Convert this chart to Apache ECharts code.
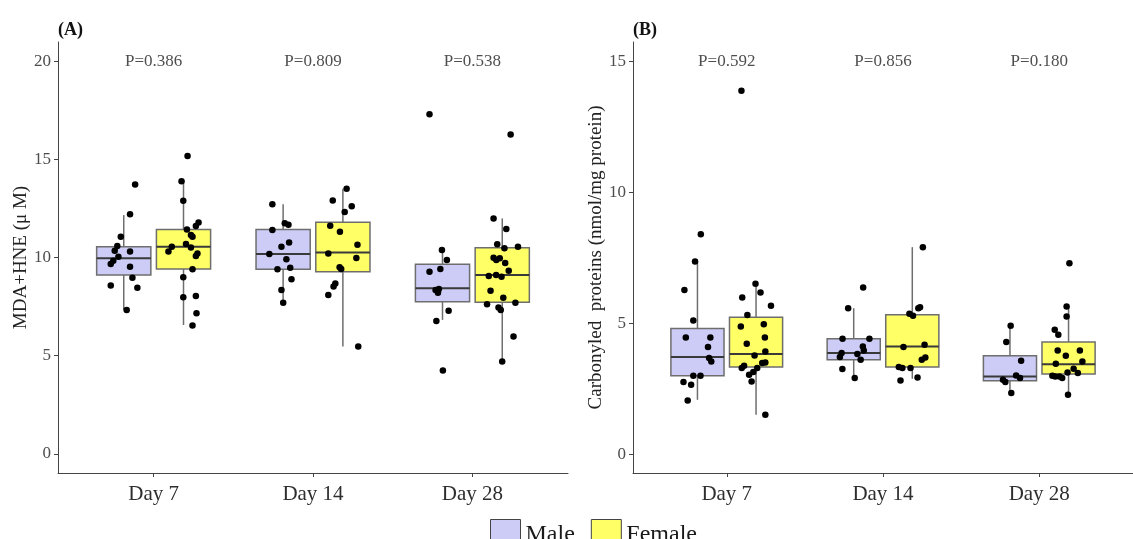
<!DOCTYPE html>
<html>
<head>
<meta charset="utf-8">
<script src="https://cdn.jsdelivr.net/npm/echarts@6/dist/echarts.min.js"></script>
<style>
  html, body { margin: 0; padding: 0; background: #fff; }
  #chart { width: 1133px; height: 539px; }
</style>
</head>
<body>
<div id="chart"></div>
<script>
const days = ['Day 7', 'Day 14', 'Day 28'];
const yTicksA = [0, 5, 10, 15, 20];
const yTicksB = [0, 5, 10, 15];
const pValuesA = ['P=0.386', 'P=0.809', 'P=0.538'];
const pValuesB = ['P=0.592', 'P=0.856', 'P=0.180'];

// [low whisker, Q1, median, Q3, high whisker] per day
const maleBoxA = [[7.33, 9.11, 9.96, 10.55, 12.16], [7.70, 9.40, 10.18, 11.43, 12.71], [6.82, 7.75, 8.43, 9.65, 10.38]];
const femaleBoxA = [[6.56, 9.41, 10.55, 11.43, 13.89], [5.46, 9.28, 10.25, 11.79, 13.50], [4.70, 7.72, 9.11, 10.50, 11.99]];
const maleBoxB = [[2.09, 3.01, 3.72, 4.81, 7.36], [2.94, 3.62, 3.87, 4.42, 5.58], [2.35, 2.82, 2.98, 3.77, 4.91]];
const femaleBoxB = [[1.52, 3.34, 3.84, 5.24, 6.51], [2.89, 3.34, 4.12, 5.33, 7.91], [2.28, 3.07, 3.45, 4.29, 5.65]];

// jittered points [x position on day axis, value]
const malePtsA = [
  [0.884, 13.72], [0.852, 12.21], [0.794, 11.06], [0.772, 10.59], [0.756, 10.35], [0.852, 10.30], [0.779, 10.04],
  [0.747, 9.84], [0.731, 9.67], [0.852, 9.53], [0.867, 8.97], [0.731, 8.57], [0.898, 8.46], [0.831, 7.33],
  [1.745, 12.71], [1.823, 11.74], [1.846, 11.67], [1.745, 11.40], [1.850, 10.77], [1.802, 10.55], [1.726, 10.18],
  [1.833, 9.91], [1.857, 9.48], [1.777, 9.40], [1.865, 8.89], [1.802, 8.35], [1.813, 7.70],
  [2.731, 17.30], [2.809, 10.38], [2.840, 9.87], [2.731, 9.28], [2.799, 9.41], [2.769, 8.35], [2.784, 8.21],
  [2.790, 8.40], [2.851, 7.29], [2.774, 6.77], [2.815, 4.24]
];
const femalePtsA = [
  [1.213, 15.17], [1.175, 13.89], [1.186, 12.89], [1.282, 11.78], [1.265, 11.60], [1.209, 11.43], [1.234, 11.15],
  [1.244, 11.06], [1.203, 10.69], [1.114, 10.55], [1.234, 10.51], [1.093, 10.30], [1.275, 10.21], [1.265, 10.08],
  [1.244, 9.40], [1.186, 8.99], [1.186, 7.97], [1.265, 8.04], [1.269, 7.16], [1.244, 6.53],
  [2.211, 13.50], [2.124, 12.91], [2.243, 12.61], [2.199, 12.32], [2.108, 11.62], [2.169, 11.31], [2.279, 10.65],
  [2.096, 10.21], [2.272, 9.97], [2.167, 9.50], [2.177, 9.42], [2.140, 8.68], [2.129, 8.52], [2.096, 8.09], [2.284, 5.46],
  [3.240, 16.27], [3.133, 11.99], [3.213, 11.45], [3.156, 10.67], [3.201, 10.47], [3.286, 10.55], [3.133, 9.99],
  [3.172, 9.96], [3.206, 9.72], [3.150, 9.87], [3.228, 9.33], [3.103, 9.06], [3.149, 9.11], [3.183, 9.02],
  [3.114, 8.30], [3.194, 7.95], [3.092, 7.62], [3.164, 7.45], [3.178, 7.33], [3.270, 7.70], [3.258, 5.97], [3.187, 4.70]
];
const malePtsB = [
  [0.834, 8.40], [0.797, 7.36], [0.729, 6.28], [0.786, 5.11], [0.738, 4.47], [0.895, 4.47], [0.880, 4.10],
  [0.887, 3.68], [0.901, 3.55], [0.786, 3.01], [0.832, 3.01], [0.723, 2.77], [0.772, 2.66], [0.750, 2.06],
  [1.873, 6.37], [1.777, 5.58], [1.741, 4.42], [1.913, 4.42], [1.871, 4.12], [1.877, 3.97], [1.735, 3.87],
  [1.724, 3.72], [1.836, 3.84], [1.857, 3.62], [1.740, 3.26], [1.819, 2.92],
  [2.817, 4.91], [2.789, 4.29], [2.884, 3.58], [2.852, 3.02], [2.877, 2.92], [2.768, 2.85], [2.783, 2.77], [2.821, 2.35]
];
const femalePtsB = [
  [1.094, 13.87], [1.184, 6.51], [1.216, 6.18], [1.099, 5.99], [1.283, 5.68], [1.132, 5.32], [1.090, 4.88],
  [1.237, 4.97], [1.244, 4.47], [1.128, 4.23], [1.178, 3.78], [1.247, 3.93], [1.227, 3.49], [1.247, 3.51],
  [1.111, 3.39], [1.096, 3.30], [1.195, 3.30], [1.170, 3.15], [1.143, 3.05], [1.159, 2.79], [1.247, 1.52],
  [2.255, 7.91], [2.226, 5.58], [2.237, 5.62], [2.169, 5.37], [2.192, 5.29], [2.131, 4.10], [2.266, 4.19],
  [2.271, 3.70], [2.248, 3.62], [2.101, 3.34], [2.124, 3.30], [2.176, 3.30], [2.112, 2.83], [2.221, 2.94],
  [3.193, 7.30], [3.175, 5.65], [3.175, 5.27], [3.099, 4.76], [3.122, 4.57], [3.118, 3.97], [3.260, 3.97],
  [3.170, 3.77], [3.106, 3.46], [3.276, 3.55], [3.181, 3.13], [3.247, 3.11], [3.220, 3.27], [3.102, 2.98],
  [3.129, 2.98], [3.147, 2.92], [3.084, 3.01], [3.184, 2.28]
];

const FONT = "'Liberation Serif', 'DejaVu Serif', serif";
const MALE = '#ccccf7';
const FEMALE = '#ffff66';
const DODGE = 0.1875;
const BOX_W = 0.34;

const renderBox = (params, api) => {
  const x = api.value(0);
  const half = api.size([BOX_W, 0])[0] / 2;
  const lo = api.coord([x, api.value(1)]);
  const q1 = api.coord([x, api.value(2)]);
  const med = api.coord([x, api.value(3)]);
  const q3 = api.coord([x, api.value(4)]);
  const hi = api.coord([x, api.value(5)]);
  const edge = { stroke: '#6e6e6e', lineWidth: 1.5 };
  return {
    type: 'group',
    children: [
      { type: 'line', shape: { x1: lo[0], y1: lo[1], x2: q1[0], y2: q1[1] }, style: edge },
      { type: 'line', shape: { x1: q3[0], y1: q3[1], x2: hi[0], y2: hi[1] }, style: edge },
      {
        type: 'rect',
        shape: { x: q3[0] - half, y: q3[1], width: half * 2, height: q1[1] - q3[1] },
        style: { fill: api.visual('color'), stroke: '#6e6e6e', lineWidth: 1.5 },
      },
      {
        type: 'line',
        shape: { x1: med[0] - half, y1: med[1], x2: med[0] + half, y2: med[1] },
        style: { stroke: '#3a3a3a', lineWidth: 2 },
      },
    ],
  };
};

const boxSeries = (name, color, boxes, shift, idx) => ({
  type: 'custom',
  name,
  xAxisIndex: idx,
  yAxisIndex: idx,
  itemStyle: { color },
  renderItem: renderBox,
  encode: { x: 0, y: [1, 2, 3, 4, 5] },
  data: boxes.map((b, i) => [i + 1 + shift, ...b]),
  z: 2,
});

const pointSeries = (name, pts, idx) => ({
  type: 'scatter',
  name,
  xAxisIndex: idx,
  yAxisIndex: idx,
  symbolSize: 6.5,
  itemStyle: { color: '#000', opacity: 1 },
  data: pts,
  z: 5,
});

const pSeries = (labels, yPos, idx) => ({
  type: 'scatter',
  name: 'p' + idx,
  xAxisIndex: idx,
  yAxisIndex: idx,
  symbolSize: 0,
  silent: true,
  label: {
    show: true,
    position: 'inside',
    formatter: ({ dataIndex }) => labels[dataIndex],
    fontFamily: FONT,
    fontSize: 17,
    color: '#222',
  },
  data: labels.map((_, i) => [i + 1, yPos]),
});

const xAxis = idx => ({
  type: 'value',
  gridIndex: idx,
  min: 0.4,
  max: 3.6,
  splitLine: { show: false },
  axisLine: { show: true, onZero: false, lineStyle: { color: '#444', width: 1 } },
  axisTick: { show: true, length: 4, customValues: [1, 2, 3], lineStyle: { color: '#444' } },
  axisLabel: {
    customValues: [1, 2, 3],
    formatter: v => days[Math.round(v) - 1],
    fontFamily: FONT,
    fontSize: 21,
    color: '#2e2e2e',
    margin: 11,
  },
});

const yAxis = (idx, min, max, ticks, name, gap) => ({
  type: 'value',
  gridIndex: idx,
  min,
  max,
  name,
  nameLocation: 'middle',
  nameGap: gap,
  nameTextStyle: { fontFamily: FONT, fontSize: 19, color: '#222' },
  splitLine: { show: false },
  axisLine: { show: true, onZero: false, lineStyle: { color: '#444', width: 1 } },
  axisTick: { show: true, length: 4, customValues: ticks, lineStyle: { color: '#444' } },
  axisLabel: { customValues: ticks, fontFamily: FONT, fontSize: 17, color: '#4d4d4d', margin: 7 },
});

const chart = echarts.init(document.getElementById('chart'));
chart.setOption({
  animation: false,
  backgroundColor: '#fff',
  title: [
    { text: '(A)', left: 53, top: 16, textStyle: { fontFamily: FONT, fontSize: 18, fontWeight: 'bold', color: '#111' } },
    { text: '(B)', left: 628, top: 16, textStyle: { fontFamily: FONT, fontSize: 18, fontWeight: 'bold', color: '#111' } },
  ],
  legend: {
    data: [
      { name: 'Male', itemStyle: { color: MALE } },
      { name: 'Female', itemStyle: { color: FEMALE } },
    ],
    left: 485,
    top: 514,
    icon: 'rect',
    itemWidth: 30,
    itemHeight: 30,
    itemGap: 16,
    itemStyle: { borderColor: '#444', borderWidth: 1 },
    textStyle: { fontFamily: FONT, fontSize: 24, color: '#1a1a1a' },
    selectedMode: false,
  },
  grid: [
    { left: 58, top: 42, width: 510, height: 431 },
    { left: 633, top: 42, width: 509, height: 431 },
  ],
  xAxis: [xAxis(0), xAxis(1)],
  yAxis: [
    yAxis(0, -0.98, 20.98, yTicksA, 'MDA+HNE (μ M)', 26),
    yAxis(1, -0.7, 15.73, yTicksB, 'Carbonyled  proteins (nmol/mg protein)', 27),
  ],
  series: [
    boxSeries('Male', MALE, maleBoxA, -DODGE, 0),
    boxSeries('Female', FEMALE, femaleBoxA, DODGE, 0),
    pointSeries('Male points', malePtsA, 0),
    pointSeries('Female points', femalePtsA, 0),
    pSeries(pValuesA, 20, 0),
    boxSeries('Male', MALE, maleBoxB, -DODGE, 1),
    boxSeries('Female', FEMALE, femaleBoxB, DODGE, 1),
    pointSeries('Male points', malePtsB, 1),
    pointSeries('Female points', femalePtsB, 1),
    pSeries(pValuesB, 15, 1),
  ],
});
</script>
</body>
</html>
